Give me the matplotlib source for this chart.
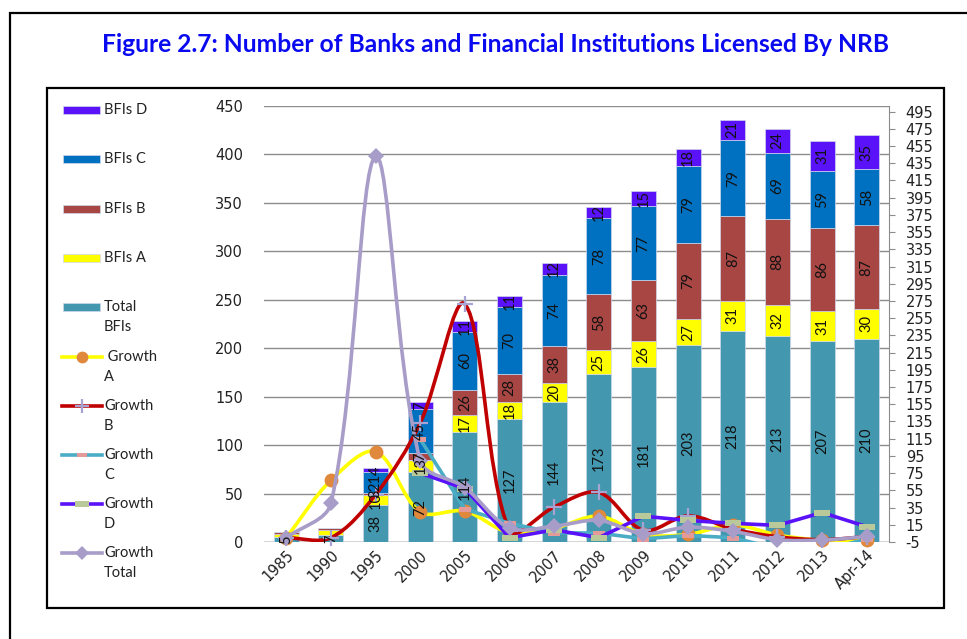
import numpy as np
import matplotlib
matplotlib.use("Agg")
import matplotlib.pyplot as plt
from matplotlib.path import Path
from matplotlib.patches import PathPatch, Rectangle

plt.rcParams['axes.unicode_minus'] = False

nan = np.nan
years = ['1985', '1990', '1995', '2000', '2005', '2006', '2007', '2008',
         '2009', '2010', '2011', '2012', '2013', 'Apr-14']
total_bfis = [5, 7, 38, 72, 114, 127, 144, 173, 181, 203, 218, 213, 207, 210]
bfis_a = [3, 5, 10, 13, 17, 18, 20, 25, 26, 27, 31, 32, 31, 30]
bfis_b = [2, 2, 3, 7, 26, 28, 38, 58, 63, 79, 87, 88, 86, 87]
bfis_c = [0, 0, 21, 45, 60, 70, 74, 78, 77, 79, 79, 69, 59, 58]
bfis_d = [0, 0, 4, 7, 11, 11, 12, 12, 15, 18, 21, 24, 31, 35]

growth_a = [0, 66.7, 100.0, 30.0, 30.8, 5.9, 11.1, 25.0, 4.0, 3.8, 14.8, 3.2, -3.1, -3.2]
growth_b = [0, 0, 50.0, 133.3, 271.4, 7.7, 35.7, 52.6, 8.6, 25.4, 10.1, 1.1, -2.3, 1.2]
growth_c = [nan, nan, nan, 114.3, 33.3, 16.7, 5.7, 5.4, -1.3, 2.6, 0.0, -12.7, -14.5, -1.7]
growth_d = [nan, nan, nan, 75.0, 57.1, 0.0, 9.1, 0.0, 25.0, 20.0, 16.7, 14.3, 29.2, 12.9]
growth_total = [0, 40.0, 442.9, 89.5, 58.3, 11.4, 13.4, 20.1, 4.6, 12.2, 7.4, -2.3, -2.8, 1.4]

W, H = 967, 639
fig = plt.figure(figsize=(W / 100, H / 100), dpi=100)
fig.patch.set_facecolor('white')

TXT = ['Lato', 'DejaVu Sans']
TICKF = 'DejaVu Sans'

# background axes in pixel coordinates (borders, legend, title)
bg = fig.add_axes([0, 0, 1, 1], zorder=-5)
bg.set_xlim(0, W)
bg.set_ylim(H, 0)
bg.axis('off')
bg.plot([10, 10, W + 5], [H + 5, 13, 13], color='black', lw=1.6, solid_joinstyle='miter')
bg.add_patch(Rectangle((47, 88), 944 - 47, 608 - 88, fill=False, ec='black', lw=1.6))

fig.text(496 / W, 1 - 45 / H,
         'Figure 2.7: Number of Banks and Financial Institutions Licensed By NRB',
         ha='center', va='center', color='#0a0af0', fontsize=17.7,
         fontweight='bold', family=TXT)

# main axes
L, R, T, B = 264, 889, 106, 542
ax = fig.add_axes([L / W, 1 - B / H, (R - L) / W, (B - T) / H], zorder=1)
ax2 = ax.twinx()

x = np.arange(len(years))
bw = 0.56
col_total = '#4398AF'
col_a = '#FFFF00'
col_b = '#A84644'
col_c = '#0070C0'
col_d = '#5A12F8'

series = [(total_bfis, col_total), (bfis_a, col_a), (bfis_b, col_b),
          (bfis_c, col_c), (bfis_d, col_d)]
bottom = np.zeros(len(years))
for k, (vals, col) in enumerate(series):
    v = np.array(vals, dtype=float)
    ax.bar(x, v, bw, bottom=bottom, color=col, edgecolor='#cfd8ea', linewidth=0.5, zorder=2)
    for i in range(len(years)):
        if v[i] <= 0:
            continue
        if k > 0 and i < 2:
            continue
        ax2.text(x[i], bottom[i] + v[i] / 2, f'{int(v[i])}', rotation=90,
                 ha='center', va='center', fontsize=10.5, family=TXT,
                 color='#111111', zorder=30, transform=ax.transData)
    bottom = bottom + v

YMIN2, YMAX2 = -5, 501.5
ax.set_xlim(-0.5, len(years) - 0.5)
ax.set_ylim(0, 450)
ax.set_yticks(np.arange(0, 451, 50))
ax.grid(axis='y', color='#8c8c8c', lw=1.0, zorder=0)
ax.set_axisbelow(True)
for s in ['left', 'top', 'right', 'bottom']:
    ax.spines[s].set_visible(False)
ax.tick_params(axis='y', length=0, pad=15, labelsize=10.5, labelcolor='#222222')
ax.tick_params(axis='x', length=0, pad=4, labelsize=10.5, labelcolor='#222222')
ax.set_xticks(x)
ax.set_xticklabels(years, rotation=45, ha='right', rotation_mode='anchor', family=TICKF)
for lab in ax.get_yticklabels():
    lab.set_family(TICKF)
ax.axhline(0, color='#8c8c8c', lw=1.0, zorder=1)

# right axis: growth lines
ax2.set_ylim(YMIN2, YMAX2)
ax2.set_yticks(np.arange(-5, 496, 20))
for s in ['left', 'top', 'bottom']:
    ax2.spines[s].set_visible(False)
ax2.spines['right'].set_color('#8c8c8c')
ax2.tick_params(axis='y', length=4, color='#8c8c8c', pad=8, labelsize=10.5,
                labelcolor='#222222', direction='out')
for lab in ax2.get_yticklabels():
    lab.set_family(TICKF)

# pixel scale factors (to smooth in screen space like a spreadsheet does)
SX = (R - L) / len(years)
SY = (B - T) / (YMAX2 - YMIN2)


def smooth_path(xs, ys):
    pts = np.array([(a * SX, b * SY) for a, b in zip(xs, ys) if not np.isnan(b)], dtype=float)
    n = len(pts)
    verts = [pts[0]]
    codes = [Path.MOVETO]
    for i in range(n - 1):
        p0 = pts[i - 1] if i > 0 else pts[i]
        p1 = pts[i]
        p2 = pts[i + 1]
        p3 = pts[i + 2] if i + 2 < n else pts[i + 1]
        d01 = np.hypot(*(p1 - p0))
        d12 = np.hypot(*(p2 - p1))
        d23 = np.hypot(*(p3 - p2))
        f1 = d12 / (d01 + d12) if d01 + d12 > 0 else 0.5
        f2 = d12 / (d12 + d23) if d12 + d23 > 0 else 0.5
        c1 = p1 + (p2 - p0) * f1 / 3.0
        c2 = p2 - (p3 - p1) * f2 / 3.0
        verts += [c1, c2, p2]
        codes += [Path.CURVE4] * 3
    verts = np.array(verts)
    verts[:, 0] /= SX
    verts[:, 1] /= SY
    return Path(verts, codes)


dash_marker = Path([(-1, -0.4), (1, -0.4), (1, 0.4), (-1, 0.4), (-1, -0.4)],
                   [Path.MOVETO, Path.LINETO, Path.LINETO, Path.LINETO, Path.CLOSEPOLY])

lines = [
    # values, line color, smooth, marker, marker size, marker color, mew
    (growth_a, '#FFFF00', True, 'o', 10, '#E0883C', 0),
    (growth_b, '#C00000', True, '+', 12, '#A7A3D3', 1.6),
    (growth_c, '#4BACC6', False, dash_marker, 9, '#E39A98', 0),
    (growth_d, '#5A12F8', False, dash_marker, 12, '#B9C99A', 0),
    (growth_total, '#A89CC8', True, 'D', 8, '#A89CC8', 0),
]
for z, (vals, lc, smooth, mk, ms, mc, mew) in enumerate(lines):
    v = np.array(vals, dtype=float)
    if smooth:
        ax2.add_patch(PathPatch(smooth_path(x, v), fill=False, ec=lc, lw=2.6,
                                zorder=4 + z, capstyle='round', joinstyle='round'))
    else:
        ax2.plot(x, v, color=lc, lw=2.6, zorder=4 + z, solid_joinstyle='round')
    vm = np.where(v >= -5, v, np.nan)
    ax2.plot(x, vm, linestyle='none', marker=mk, markersize=ms, markerfacecolor=mc,
             markeredgecolor=mc, markeredgewidth=mew, zorder=4.5 + z, clip_on=False)

# legend (manual, in pixel coords)
leg_bars = [('BFIs D', col_d, 110), ('BFIs C', col_c, 159), ('BFIs B', col_b, 209),
            ('BFIs A', col_a, 258), ('Total\nBFIs', col_total, 307)]
for lab, col, yy in leg_bars:
    bg.add_patch(Rectangle((63, yy - 4), 37, 8, color=col, ec='#cfd8ea', lw=0.5))
    for j, part in enumerate(lab.split('\n')):
        bg.text(104, yy + j * 20, part, ha='left', va='center', fontsize=10.5,
                family=TXT, color='#222222')

leg_lines = [(' Growth\nA', 0, 357), ('Growth\nB', 1, 406), ('Growth\nC', 2, 455),
             ('Growth\nD', 3, 504), ('Growth\nTotal', 4, 553)]
for lab, k, yy in leg_lines:
    vals, lc, smooth, mk, ms, mc, mew = lines[k]
    bg.plot([62, 102], [yy, yy], color=lc, lw=2.6)
    bg.plot([82], [yy], linestyle='none', marker=mk, markersize=ms * 0.85,
            markerfacecolor=mc, markeredgecolor=mc, markeredgewidth=mew)
    for j, part in enumerate(lab.split('\n')):
        bg.text(104, yy + j * 20, part, ha='left', va='center', fontsize=10.5,
                family=TXT, color='#222222')

fig.savefig('out.png', dpi=100, facecolor='white')
